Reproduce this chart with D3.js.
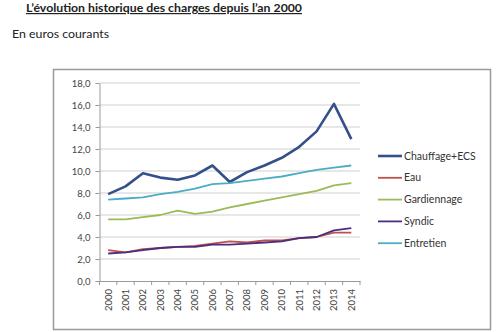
<!DOCTYPE html>
<html>
<head>
<meta charset="utf-8">
<script src="https://cdn.jsdelivr.net/npm/d3@7"></script>
<style>
  body { margin: 0; background: #fff; }
</style>
</head>
<body>
<div id="chart"></div>
<script>
// data
const years = ["2000","2001","2002","2003","2004","2005","2006","2007","2008","2009","2010","2011","2012","2013","2014"];
const chauffage   = [7.9, 8.6, 9.8, 9.4, 9.2, 9.6, 10.5, 9.0, 9.9, 10.5, 11.2, 12.2, 13.6, 16.1, 12.9];
const eau         = [2.8, 2.6, 2.9, 3.0, 3.1, 3.2, 3.4, 3.6, 3.5, 3.7, 3.7, 3.9, 4.0, 4.4, 4.4];
const gardiennage = [5.6, 5.6, 5.8, 6.0, 6.4, 6.1, 6.3, 6.7, 7.0, 7.3, 7.6, 7.9, 8.2, 8.7, 8.9];
const syndic      = [2.5, 2.6, 2.8, 3.0, 3.1, 3.1, 3.3, 3.3, 3.4, 3.5, 3.6, 3.9, 4.0, 4.6, 4.8];
const entretien   = [7.4, 7.5, 7.6, 7.9, 8.1, 8.4, 8.8, 8.9, 9.1, 9.3, 9.5, 9.8, 10.1, 10.3, 10.5];
const yTicks = [0, 2, 4, 6, 8, 10, 12, 14, 16, 18];

const series = [
  { name: "Chauffage+ECS", values: chauffage,   color: "#34508a", w: 2.6 },
  { name: "Eau",           values: eau,         color: "#c0504d", w: 1.8 },
  { name: "Gardiennage",   values: gardiennage, color: "#9bbb59", w: 1.8 },
  { name: "Syndic",        values: syndic,      color: "#4b2d7f", w: 1.8 },
  { name: "Entretien",     values: entretien,   color: "#4bacc6", w: 1.8 }
];

const W = 500, H = 332;
const svg = d3.select("#chart").append("svg")
  .attr("width", W)
  .attr("height", H)
  .style("font-family", "Lato, sans-serif");

// titres
svg.append("text")
  .attr("x", 26).attr("y", 12)
  .attr("font-size", "12px")
  .attr("font-weight", "bold")
  .attr("fill", "#222")
  .attr("text-decoration", "underline")
  .attr("textLength", 276)
  .attr("lengthAdjust", "spacingAndGlyphs")
  .text("L’évolution historique des charges depuis l’an 2000");

svg.append("text")
  .attr("x", 12).attr("y", 38)
  .attr("font-size", "11px")
  .attr("fill", "#222")
  .attr("textLength", 97)
  .attr("lengthAdjust", "spacingAndGlyphs")
  .text("En euros courants");

// cadre
svg.append("rect")
  .attr("x", 53.5).attr("y", 69.5)
  .attr("width", 437).attr("height", 260)
  .attr("fill", "none")
  .attr("stroke", "#9a9a9a")
  .attr("stroke-width", 1.5);

// scales
const x = d3.scaleBand().domain(years).range([99.5, 360]);
const y = d3.scaleLinear().domain([0, 18]).range([281, 83]);
const cx = d => x(d) + x.bandwidth() / 2;

// grille
svg.append("g")
  .selectAll("line")
  .data(yTicks.filter(d => d > 0))
  .join("line")
  .attr("x1", 99.5).attr("x2", 360)
  .attr("y1", d => y(d)).attr("y2", d => y(d))
  .attr("stroke", "#cfcfcf")
  .attr("stroke-width", 1);

// axe y
const yAxis = svg.append("g")
  .attr("transform", "translate(99.5,0)")
  .call(d3.axisLeft(y).tickValues(yTicks).tickSize(4).tickSizeOuter(0)
    .tickFormat(d => d3.format(".1f")(d).replace(".", ",")));
yAxis.select(".domain").attr("stroke", "#9a9a9a");
yAxis.selectAll(".tick line").attr("stroke", "#9a9a9a");
yAxis.selectAll("text")
  .attr("font-family", "Lato, sans-serif")
  .attr("font-size", "9.5px")
  .attr("fill", "#444")
  .attr("x", -9);

// axe x
const xAxis = svg.append("g")
  .attr("transform", "translate(0,281)")
  .call(d3.axisBottom(x).tickSize(0).tickSizeOuter(0));
xAxis.select(".domain").attr("stroke", "#9a9a9a");
xAxis.selectAll("text")
  .attr("font-family", "Lato, sans-serif")
  .attr("font-size", "9.5px")
  .attr("fill", "#444")
  .attr("transform", "rotate(-90)")
  .attr("text-anchor", "end")
  .attr("x", -8)
  .attr("y", 0)
  .attr("dy", "0.35em");

// graduations entre catégories
svg.append("g")
  .selectAll("line")
  .data(years.concat(["end"]))
  .join("line")
  .attr("x1", (d, i) => 99.5 + i * x.step())
  .attr("x2", (d, i) => 99.5 + i * x.step())
  .attr("y1", 281).attr("y2", 285)
  .attr("stroke", "#9a9a9a");

// courbes
const line = d3.line()
  .x((d, i) => cx(years[i]))
  .y(d => y(d));

svg.append("g")
  .selectAll("path")
  .data(series)
  .join("path")
  .attr("d", s => line(s.values))
  .attr("fill", "none")
  .attr("stroke", s => s.color)
  .attr("stroke-width", s => s.w)
  .attr("stroke-linejoin", "round");

// légende
const leg = svg.append("g")
  .selectAll("g")
  .data(series)
  .join("g")
  .attr("transform", (s, i) => `translate(378,${156 + i * 21.8})`);

leg.append("line")
  .attr("x1", 0).attr("x2", 24)
  .attr("stroke", s => s.color)
  .attr("stroke-width", s => s.w);

leg.append("text")
  .attr("x", 26)
  .attr("dy", "0.35em")
  .attr("font-size", "10.5px")
  .attr("fill", "#333")
  .text(s => s.name);
</script>
</body>
</html>
